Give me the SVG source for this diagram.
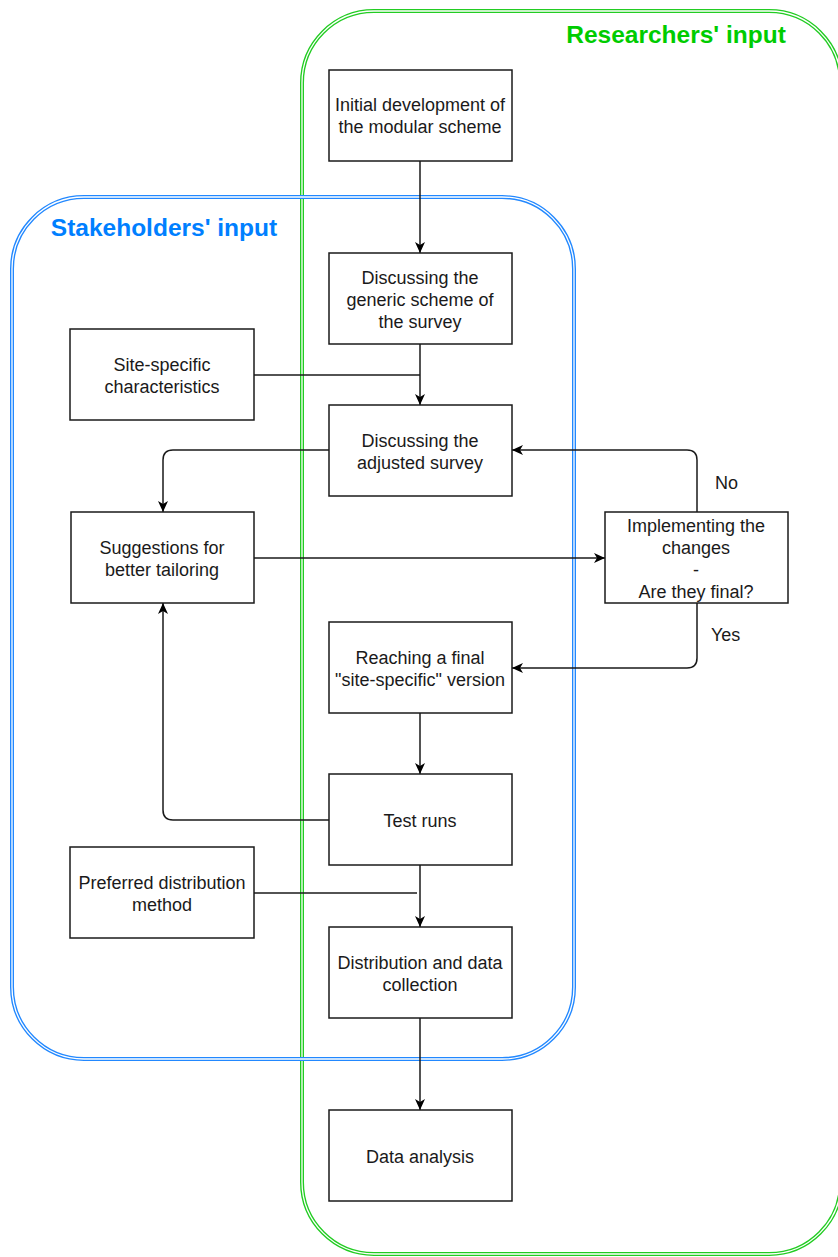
<svg xmlns="http://www.w3.org/2000/svg" width="838" height="1257" viewBox="0 0 838 1257">
<style>
.box{fill:#fff;stroke:#1a1a1a;stroke-width:1.5}
.t{font-family:"Liberation Sans",Arial,sans-serif;font-size:18px;fill:#1a1a1a;text-anchor:middle}
.lbl{font-family:"Liberation Sans",Arial,sans-serif;font-size:18px;fill:#1a1a1a}
.c{fill:none;stroke:#1a1a1a;stroke-width:1.5}
.title{font-family:"Liberation Sans",Arial,sans-serif;font-size:24.5px;font-weight:bold}
</style>
<defs>
<marker id="ah" markerUnits="userSpaceOnUse" markerWidth="12" markerHeight="12" refX="11" refY="6" orient="auto">
<path d="M0,1 L11,6 L0,11 L3,6 z" fill="#000"/>
</marker>
</defs>
<rect width="838" height="1257" fill="#fff"/>
<g id="researchers">
<rect x="302" y="11" width="539" height="1243" rx="72" fill="none" stroke="#22cc22" stroke-width="4"/>
<rect x="302" y="11" width="539" height="1243" rx="72" fill="none" stroke="#fff" stroke-width="1.3"/>
<text class="title" x="676" y="43" text-anchor="middle" fill="#00cc00">Researchers' input</text>
</g>
<g id="stakeholders">
<rect x="12" y="197" width="562" height="862" rx="72" fill="none" stroke="#2288ff" stroke-width="4"/>
<rect x="12" y="197" width="562" height="862" rx="72" fill="none" stroke="#fff" stroke-width="1.3"/>
<text class="title" x="164" y="236" text-anchor="middle" fill="#007fff">Stakeholders' input</text>
</g>
<g id="connectors">
<path class="c" d="M420,161 V253" marker-end="url(#ah)"/>
<path class="c" d="M420,344 V405" marker-end="url(#ah)"/>
<path class="c" d="M254,375 H420"/>
<path class="c" d="M329,450 H173 Q163,450 163,460 V512" marker-end="url(#ah)"/>
<path class="c" d="M254,558 H605" marker-end="url(#ah)"/>
<path class="c" d="M697,512 V460 Q697,450 687,450 H512" marker-end="url(#ah)"/>
<path class="c" d="M697,603 V658 Q697,668 687,668 H512" marker-end="url(#ah)"/>
<path class="c" d="M420,713 V774" marker-end="url(#ah)"/>
<path class="c" d="M329,820 H173 Q163,820 163,810 V603" marker-end="url(#ah)"/>
<path class="c" d="M420,865 V927" marker-end="url(#ah)"/>
<path class="c" d="M254,893 H417"/>
<path class="c" d="M420,1018 V1110" marker-end="url(#ah)"/>
<text class="lbl" x="715" y="489">No</text>
<text class="lbl" x="711" y="641">Yes</text>
</g>
<g id="n1"><rect class="box" x="329" y="70" width="183" height="91"/>
<text class="t" x="420" y="111">Initial development of</text><text class="t" x="420" y="133">the modular scheme</text></g>
<g id="n2"><rect class="box" x="329" y="253" width="183" height="91"/>
<text class="t" x="420" y="284">Discussing the</text><text class="t" x="420" y="306">generic scheme of</text><text class="t" x="420" y="328">the survey</text></g>
<g id="n3"><rect class="box" x="70" y="329" width="184" height="91"/>
<text class="t" x="162" y="371">Site-specific</text><text class="t" x="162" y="393">characteristics</text></g>
<g id="n4"><rect class="box" x="329" y="405" width="183" height="91"/>
<text class="t" x="420" y="447">Discussing the</text><text class="t" x="420" y="469">adjusted survey</text></g>
<g id="n5"><rect class="box" x="71" y="512" width="183" height="91"/>
<text class="t" x="162" y="554">Suggestions for</text><text class="t" x="162" y="576">better tailoring</text></g>
<g id="n6"><rect class="box" x="605" y="512" width="183" height="91"/>
<text class="t" x="696" y="532">Implementing the</text><text class="t" x="696" y="554">changes</text><text class="t" x="696" y="576">-</text><text class="t" x="696" y="598">Are they final?</text></g>
<g id="n7"><rect class="box" x="329" y="622" width="183" height="91"/>
<text class="t" x="420" y="664">Reaching a final</text><text class="t" x="420" y="686">"site-specific" version</text></g>
<g id="n8"><rect class="box" x="329" y="774" width="183" height="91"/>
<text class="t" x="420" y="827">Test runs</text></g>
<g id="n9"><rect class="box" x="70" y="847" width="184" height="91"/>
<text class="t" x="162" y="889">Preferred distribution</text><text class="t" x="162" y="911">method</text></g>
<g id="n10"><rect class="box" x="329" y="927" width="183" height="91"/>
<text class="t" x="420" y="969">Distribution and data</text><text class="t" x="420" y="991">collection</text></g>
<g id="n11"><rect class="box" x="329" y="1110" width="183" height="91"/>
<text class="t" x="420" y="1163">Data analysis</text></g>
</svg>
